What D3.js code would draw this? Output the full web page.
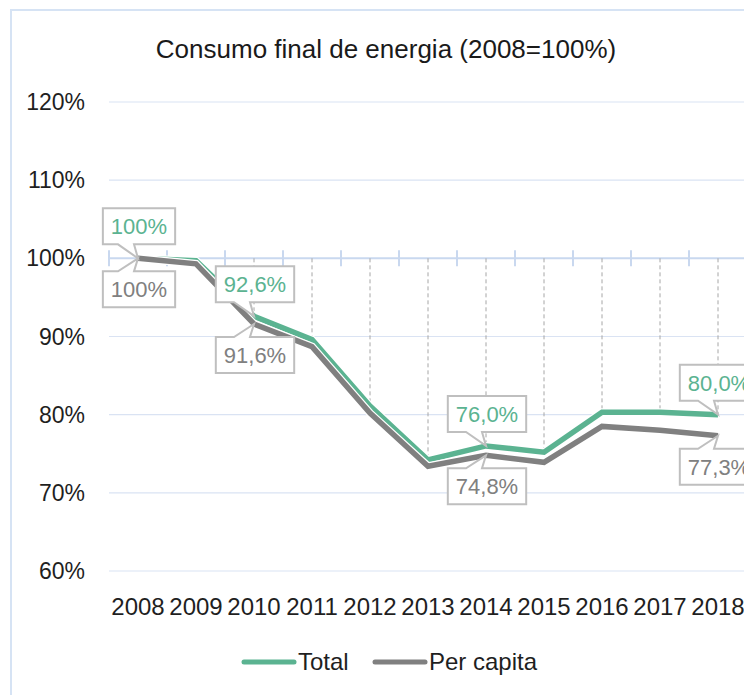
<!DOCTYPE html>
<html>
<head>
<meta charset="utf-8">
<script src="https://cdn.jsdelivr.net/npm/d3@7"></script>
<style>
  body { margin: 0; background: #fff; }
  svg { display: block; font-family: "Liberation Sans", Arial, sans-serif; }
</style>
</head>
<body>
<svg id="chart" width="744" height="695"></svg>
<script>
// data
var years = [2008, 2009, 2010, 2011, 2012, 2013, 2014, 2015, 2016, 2017, 2018];
var total = [100, 99.7, 92.6, 89.6, 81.1, 74.2, 76.0, 75.2, 80.3, 80.3, 80.0];
var perCapita = [100, 99.3, 91.6, 88.7, 80.2, 73.4, 74.8, 73.9, 78.5, 78.0, 77.3];
var labelYears = [2008, 2010, 2014, 2018];
var yTicks = [60, 70, 80, 90, 100, 110, 120];
var seriesNames = ['Total', 'Per capita'];
var seriesColors = ['#5bb391', '#808080'];

var svg = d3.select('#chart');
var width = 744, height = 695;

svg.append('rect').attr('width', width).attr('height', height).attr('fill', '#fff');
// chart frame (runs off the right and bottom edge)
svg.append('rect')
  .attr('x', 11).attr('y', 10).attr('width', 900).attr('height', 900)
  .attr('fill', 'none').attr('stroke', '#d6e3f4').attr('stroke-width', 2);

svg.append('text')
  .attr('x', 386).attr('y', 58)
  .attr('text-anchor', 'middle')
  .attr('font-size', 26).attr('fill', '#1a1a1a')
  .text('Consumo final de energia (2008=100%)');

var x = d3.scaleBand().domain(years).range([109, 747]).padding(0);
var y = d3.scaleLinear().domain([60, 120]).range([571, 102]);
var cx = function(yr) { return x(yr) + x.bandwidth() / 2; };

// gridlines
svg.append('g').selectAll('line')
  .data(yTicks.filter(function(d) { return d !== 100; }))
  .enter().append('line')
  .attr('x1', 109).attr('x2', 760)
  .attr('y1', function(d) { return y(d); })
  .attr('y2', function(d) { return y(d); })
  .attr('stroke', '#dae3f3').attr('stroke-width', 1.2);

// y labels
svg.append('g').selectAll('text')
  .data(yTicks)
  .enter().append('text')
  .attr('x', 85)
  .attr('y', function(d) { return y(d) + 8; })
  .attr('text-anchor', 'end')
  .attr('font-size', 23).attr('fill', '#1f1f1f')
  .text(function(d) { return d + '%'; });

// category axis crossing at 100%
var axis = svg.append('g').attr('transform', 'translate(0,' + y(100) + ')');
axis.append('line').attr('x1', 109).attr('x2', 760)
  .attr('stroke', '#c9d8ef').attr('stroke-width', 2);
axis.selectAll('.tk')
  .data(years.map(function(d) { return x(d); }).concat([x(2018) + x.bandwidth()]))
  .enter().append('line')
  .attr('x1', function(d) { return d; }).attr('x2', function(d) { return d; })
  .attr('y1', -8).attr('y2', 8)
  .attr('stroke', '#c9d8ef').attr('stroke-width', 2);

// x labels
svg.append('g').selectAll('text')
  .data(years)
  .enter().append('text')
  .attr('x', function(d) { return cx(d); })
  .attr('y', 615)
  .attr('text-anchor', 'middle')
  .attr('font-size', 24).attr('fill', '#1f1f1f')
  .text(function(d) { return d; });

// drop lines from the axis to the higher point
svg.append('g').selectAll('line')
  .data(years)
  .enter().append('line')
  .attr('x1', function(d) { return cx(d); })
  .attr('x2', function(d) { return cx(d); })
  .attr('y1', y(100))
  .attr('y2', function(d, i) { return y(Math.max(total[i], perCapita[i])); })
  .attr('stroke', '#a6a6a6').attr('stroke-width', 1).attr('stroke-dasharray', '4,3');

// lines
var line = d3.line()
  .x(function(d, i) { return cx(years[i]); })
  .y(function(d) { return y(d); });

[total, perCapita].forEach(function(s, k) {
  svg.append('path').datum(s)
    .attr('d', line).attr('fill', 'none')
    .attr('stroke', '#fff').attr('stroke-width', 8);
  svg.append('path').datum(s)
    .attr('d', line).attr('fill', 'none')
    .attr('stroke', seriesColors[k]).attr('stroke-width', 5.5)
    .attr('stroke-linejoin', 'miter');
});

// callout labels
var fmt = d3.formatLocale({ decimal: ',', thousands: '.', grouping: [3], currency: ['', ''] }).format('.1f');
function labelText(v) { return v === 100 ? '100%' : fmt(v) + '%'; }

function callout(yr, v, color, above) {
  var px = cx(yr), py = y(v);
  var g = svg.append('g');
  var path = g.append('path');
  var t = g.append('text')
    .attr('font-size', 22).attr('fill', color)
    .attr('text-anchor', 'middle')
    .text(labelText(v));
  var w = t.node().getComputedTextLength() + 16, h = 36;
  var bx = px + 1;
  var x0 = bx - w / 2, x1 = bx + w / 2;
  var y0, y1, d;
  if (above) {
    y1 = py - 14; y0 = y1 - h;
    d = 'M' + x0 + ',' + y0 + 'H' + x1 + 'V' + y1 + 'H' + (px - 4) +
        'L' + px + ',' + py + 'L' + (px - 20) + ',' + y1 + 'H' + x0 + 'Z';
  } else {
    y0 = py + 13; y1 = y0 + h;
    d = 'M' + x0 + ',' + y0 + 'H' + (px - 20) + 'L' + px + ',' + py +
        'L' + (px - 4) + ',' + y0 + 'H' + x1 + 'V' + y1 + 'H' + x0 + 'Z';
  }
  path.attr('d', d).attr('fill', '#fff').attr('stroke', '#bfbfbf').attr('stroke-width', 2);
  t.attr('x', bx).attr('y', y0 + h / 2 + 8);
}

labelYears.forEach(function(yr) {
  var i = years.indexOf(yr);
  callout(yr, total[i], seriesColors[0], true);
  callout(yr, perCapita[i], seriesColors[1], false);
});

// legend
var leg = svg.append('g');
var legX = [244, 375];
seriesNames.forEach(function(n, k) {
  leg.append('line')
    .attr('x1', legX[k]).attr('x2', legX[k] + 50)
    .attr('y1', 662).attr('y2', 662)
    .attr('stroke', seriesColors[k]).attr('stroke-width', 5).attr('stroke-linecap', 'round');
  leg.append('text')
    .attr('x', legX[k] + 54).attr('y', 670)
    .attr('font-size', 24).attr('fill', '#1f1f1f')
    .text(n);
});
</script>
</body>
</html>
